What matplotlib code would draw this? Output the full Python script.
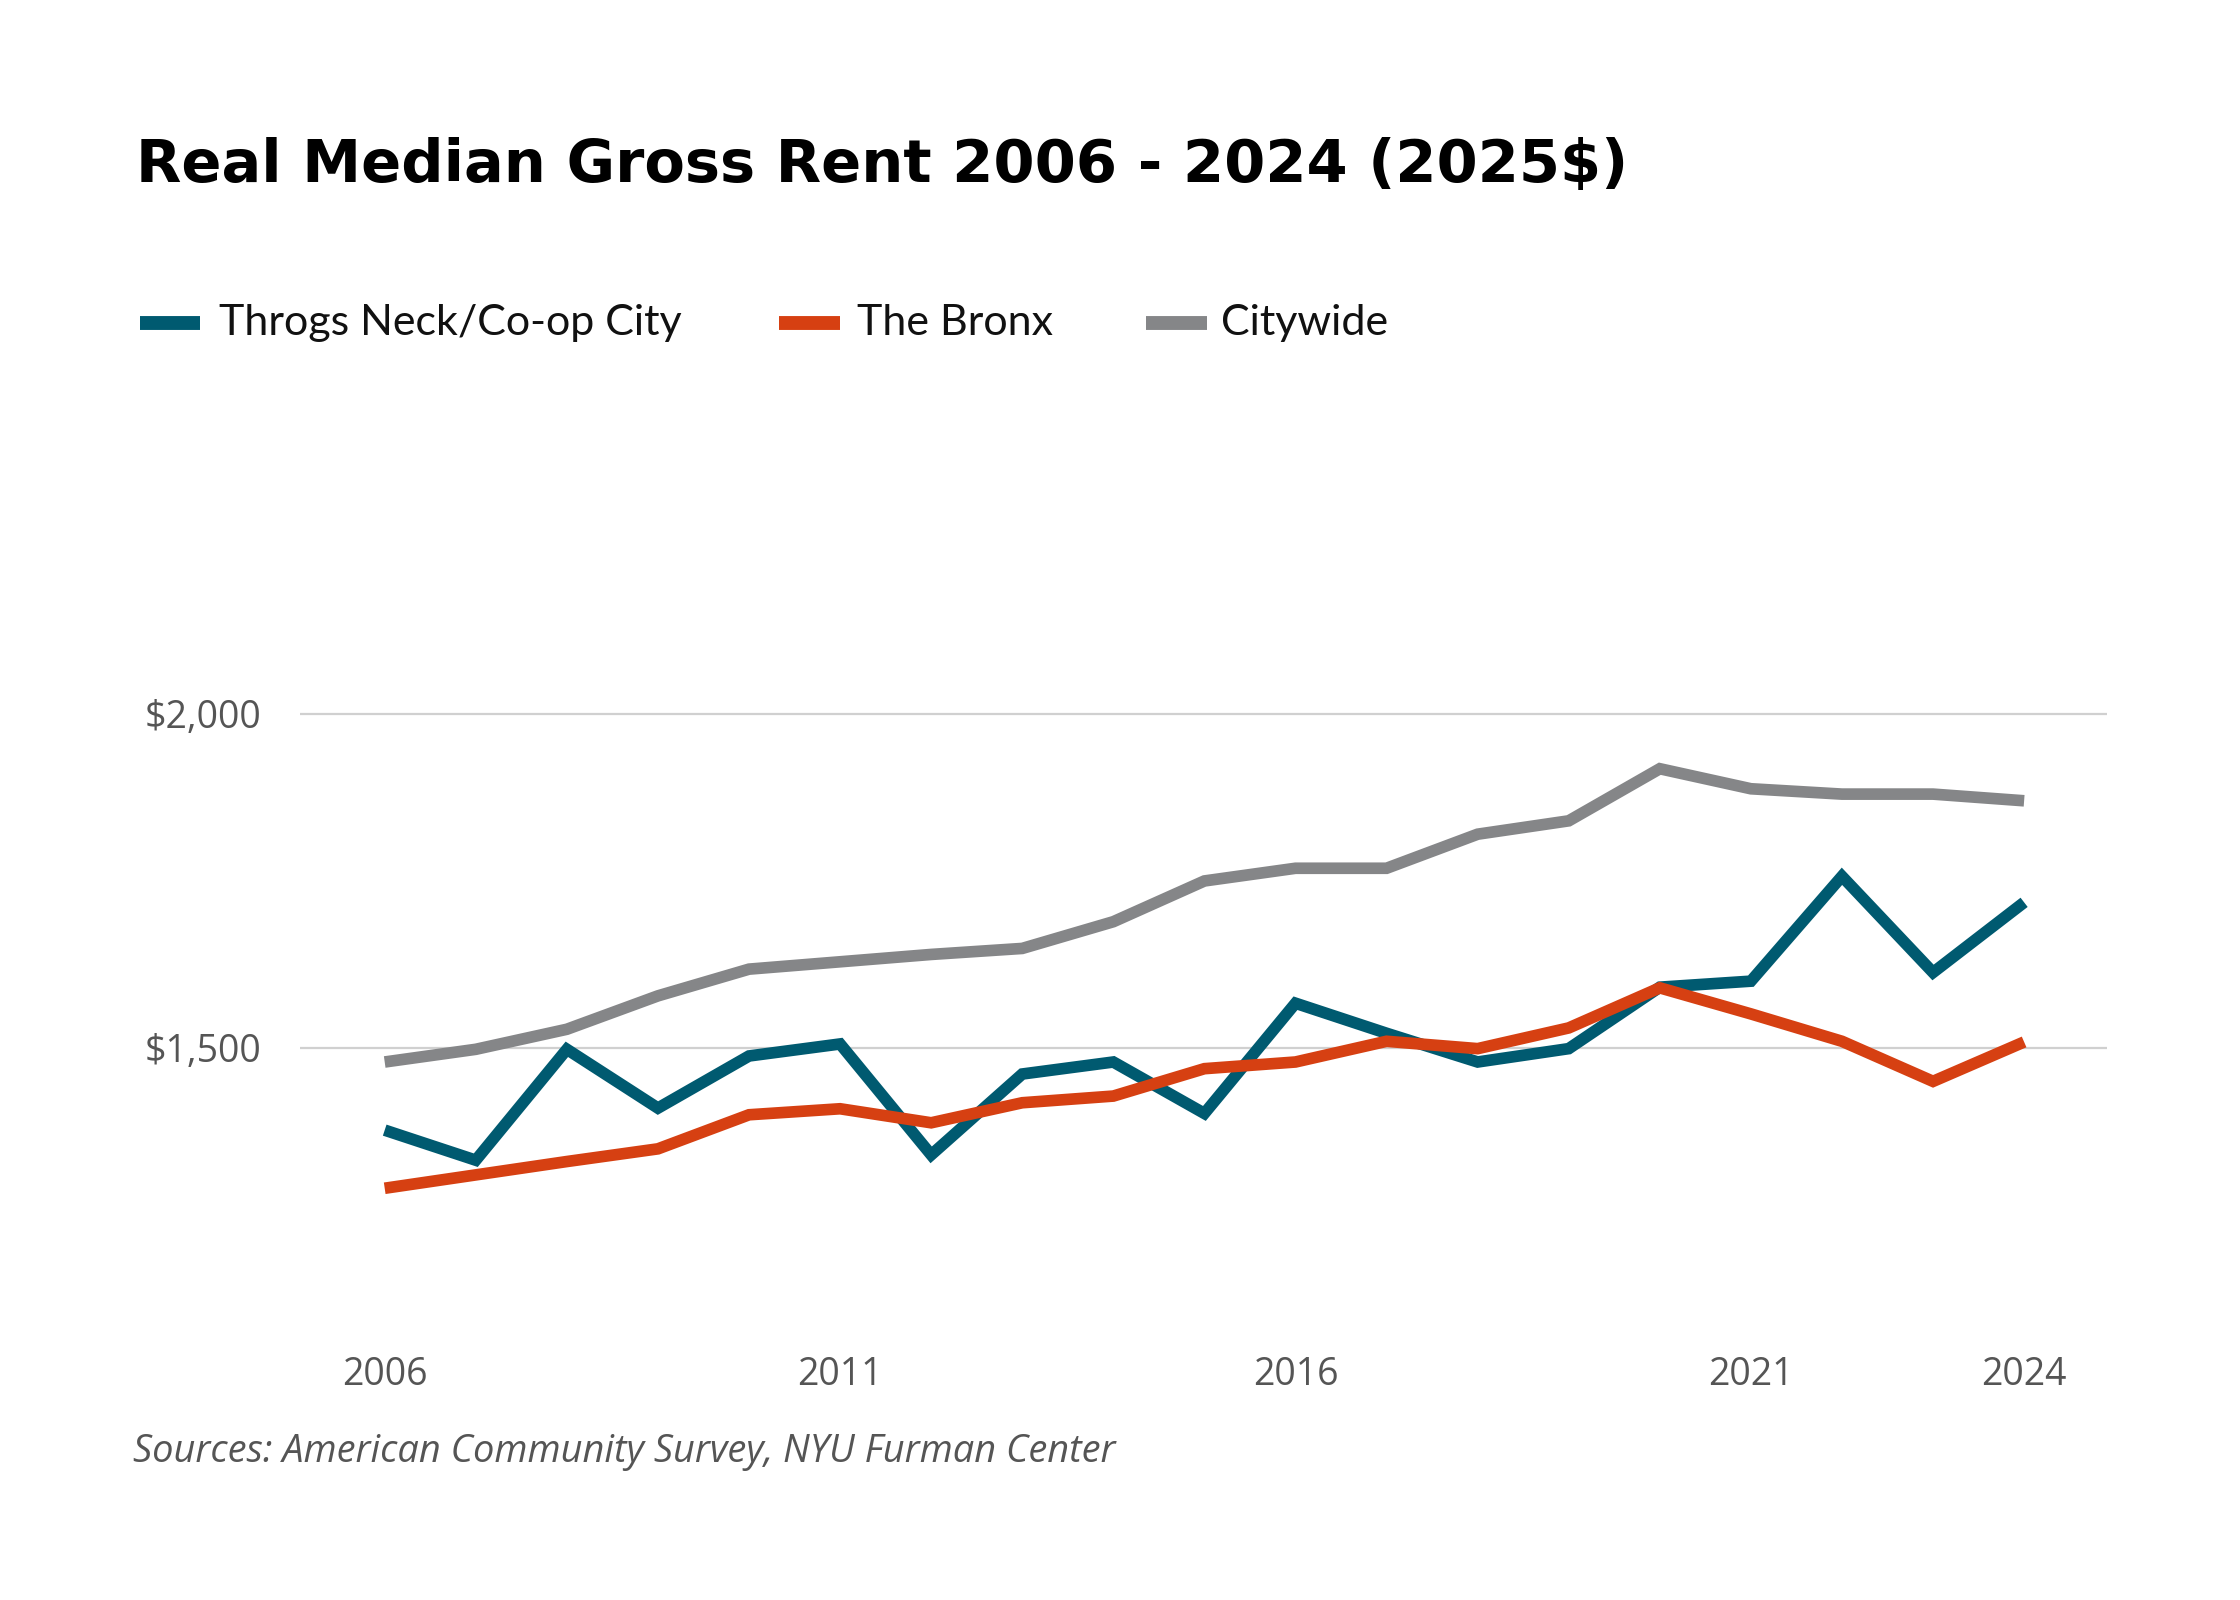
import matplotlib
matplotlib.use("Agg")
import matplotlib.pyplot as plt
from matplotlib.lines import Line2D
from matplotlib.ticker import FuncFormatter

years = list(range(2006, 2025))
throgs_neck = [1377, 1332, 1498, 1410, 1488, 1506, 1340, 1461, 1479, 1402,
               1567, 1522, 1479, 1499, 1591, 1600, 1757, 1613, 1718]
bronx = [1290, 1310, 1330, 1349, 1400, 1409, 1388, 1418, 1428, 1469,
         1479, 1510, 1499, 1530, 1590, 1551, 1510, 1450, 1509]
citywide = [1479, 1498, 1528, 1578, 1618, 1629, 1640, 1649, 1689, 1750,
            1769, 1769, 1820, 1840, 1918, 1888, 1880, 1880, 1870]
series_names = ["Throgs Neck/Co-op City", "The Bronx", "Citywide"]
colors = ["#005a70", "#d64012", "#858688"]
xticks = [2006, 2011, 2016, 2021, 2024]
yticks = [1500, 2000]

plt.rcParams['font.family'] = ['Lato', 'DejaVu Sans']

W, H = 2240, 1600
fig = plt.figure(figsize=(W / 200, H / 200), dpi=200)
fig.patch.set_facecolor("white")

ax = fig.add_axes([300 / W, 1 - 1320 / H, (2107 - 300) / W, (1320 - 420) / H])
ax.plot(years, citywide, color=colors[2], lw=4.2, solid_capstyle="butt", solid_joinstyle="miter", zorder=3)
ax.plot(years, throgs_neck, color=colors[0], lw=4.2, solid_capstyle="butt", solid_joinstyle="miter", zorder=4)
ax.plot(years, bronx, color=colors[1], lw=4.2, solid_capstyle="butt", solid_joinstyle="miter", zorder=5)

ax.set_xlim(2005.07, 2024.91)
ax.set_ylim(1092.8, 2440)
ax.set_yticks(yticks)
ax.set_xticks(xticks)
ax.yaxis.set_major_formatter(FuncFormatter(lambda v, p: f"${v:,.0f}"))
ax.grid(axis="y", color="#d0d0d0", lw=0.8, zorder=0)
ax.grid(axis="x", visible=False)
for s in ax.spines.values():
    s.set_visible(False)
ax.tick_params(axis="both", length=0, labelsize=13.5, labelcolor="#555555")
for lbl in ax.get_xticklabels() + ax.get_yticklabels():
    lbl.set_family(["Open Sans", "DejaVu Sans"])
ax.tick_params(axis="y", pad=14)
ax.tick_params(axis="x", pad=13)

fig.text(136 / W, 1 - 166 / H, "Real Median Gross Rent 2006 - 2024 (2025$)",
         fontsize=21.3, fontweight="bold", family=["DejaVu Sans"], color="#000000",
         va="center", ha="left")

leg_y = 1 - 323 / H
swatches = [(140, 200, 219), (779, 840, 857), (1146, 1207, 1221)]
for (x0, x1, xt), name, col in zip(swatches, series_names, colors):
    fig.add_artist(Line2D([x0 / W, x1 / W], [leg_y, leg_y], color=col, lw=5, solid_capstyle="butt",
                          transform=fig.transFigure))
    fig.text(xt / W, leg_y, name, fontsize=15.5, color="#111111", va="center", ha="left")

fig.text(133 / W, 1 - 1452 / H, "Sources: American Community Survey, NYU Furman Center",
         fontsize=13.7, style="italic", family=["Open Sans", "DejaVu Sans"], color="#555555",
         va="center", ha="left")

fig.savefig("out.png", dpi=200)
